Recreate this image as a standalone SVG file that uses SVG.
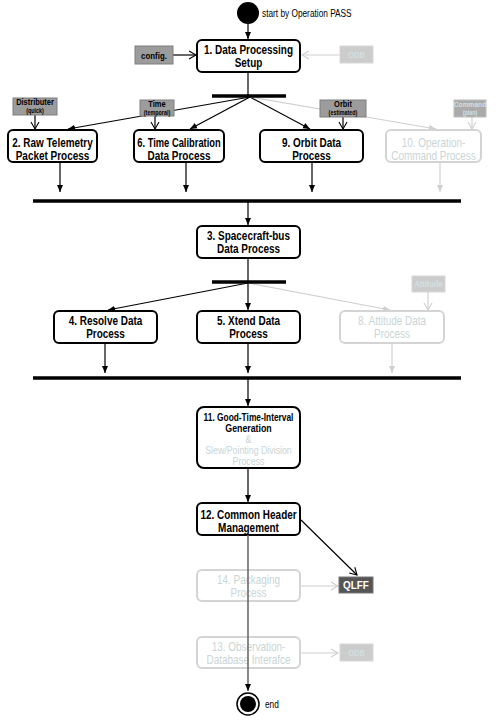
<svg xmlns="http://www.w3.org/2000/svg" width="498" height="720" viewBox="0 0 498 720">
<style>
text{font-family:"Liberation Sans",Arial,sans-serif;font-weight:bold;text-anchor:middle}
.box{fill:#fff;stroke:#000;stroke-width:2}
.fbox{fill:#fff;stroke:#d4d4d4;stroke-width:2}
.t{font-size:12px;fill:#000}
.ft{font-size:12px;fill:#c9d5d6;font-weight:normal}
.lab{fill:#9c9c9c;stroke:#7f7f7f;stroke-width:1}
.flab{fill:#cccccc;stroke:#d8d8d8;stroke-width:1}
.lt{font-size:9px;fill:#000}
.ls{font-size:6.5px;fill:#000}
.flt{font-size:9px;fill:#d2e0e0}
.fls{font-size:6.5px;fill:#d2e0e0}
.bar{stroke:#000;stroke-width:3.5}
.c{stroke:#000;stroke-width:1.2;fill:none}
.fc{stroke:#d0d0d0;stroke-width:1.2;fill:none}
.plain{font-weight:normal;text-anchor:start;font-size:10px;fill:#000}
</style>
<defs>
<marker id="fa" markerWidth="8" markerHeight="8" refX="7" refY="4" orient="auto" markerUnits="userSpaceOnUse"><path d="M0,1 L7,4 L0,7 Z" fill="#000"/></marker>
<marker id="fg" markerWidth="8" markerHeight="8" refX="7" refY="4" orient="auto" markerUnits="userSpaceOnUse"><path d="M0,1 L7,4 L0,7 Z" fill="#cfcfcf"/></marker>
<marker id="oa" markerWidth="10" markerHeight="10" refX="8" refY="5" orient="auto" markerUnits="userSpaceOnUse"><path d="M1,1 L8,5 L1,9" fill="none" stroke="#000" stroke-width="1.1"/></marker>
<marker id="og" markerWidth="10" markerHeight="10" refX="8" refY="5" orient="auto" markerUnits="userSpaceOnUse"><path d="M1,1 L8,5 L1,9" fill="none" stroke="#cfcfcf" stroke-width="1.1"/></marker>
</defs>

<g id="connectors">
<line class="c" x1="248" y1="24" x2="248" y2="39" marker-end="url(#fa)"/>
<line class="c" x1="173" y1="55" x2="196" y2="55" marker-end="url(#oa)"/>
<line class="fc" x1="340" y1="55" x2="302" y2="55" marker-end="url(#og)"/>
<line class="c" x1="248" y1="72" x2="248" y2="95"/>
<line class="c" x1="250" y1="97" x2="68" y2="129" marker-end="url(#fa)"/>
<line class="c" x1="250" y1="97" x2="190" y2="129" marker-end="url(#fa)"/>
<line class="c" x1="250" y1="97" x2="310" y2="129" marker-end="url(#fa)"/>
<line class="fc" x1="250" y1="97" x2="436" y2="129" marker-end="url(#fg)"/>
<line class="c" x1="35" y1="115" x2="35" y2="129" marker-end="url(#oa)"/>
<line class="c" x1="155" y1="116" x2="155" y2="129" marker-end="url(#oa)"/>
<line class="c" x1="343" y1="117" x2="343" y2="129" marker-end="url(#oa)"/>
<line class="fc" x1="472" y1="117" x2="472" y2="129" marker-end="url(#og)"/>
<line class="c" x1="60" y1="162" x2="60" y2="192" marker-end="url(#fa)"/>
<line class="c" x1="186" y1="162" x2="186" y2="192" marker-end="url(#fa)"/>
<line class="c" x1="312" y1="162" x2="312" y2="192" marker-end="url(#fa)"/>
<line class="fc" x1="440" y1="162" x2="440" y2="192" marker-end="url(#fg)"/>
<line class="c" x1="248" y1="201" x2="248" y2="225" marker-end="url(#fa)"/>
<line class="c" x1="248" y1="258" x2="248" y2="281"/>
<line class="c" x1="248" y1="283" x2="108" y2="310" marker-end="url(#fa)"/>
<line class="c" x1="248" y1="283" x2="248" y2="310" marker-end="url(#fa)"/>
<line class="fc" x1="248" y1="283" x2="390" y2="310" marker-end="url(#fg)"/>
<line class="fc" x1="428" y1="292" x2="428" y2="310" marker-end="url(#og)"/>
<line class="c" x1="105" y1="344" x2="105" y2="373" marker-end="url(#fa)"/>
<line class="c" x1="248" y1="344" x2="248" y2="373" marker-end="url(#fa)"/>
<line class="fc" x1="392" y1="344" x2="392" y2="373" marker-end="url(#fg)"/>
<line class="c" x1="248" y1="379" x2="248" y2="406" marker-end="url(#fa)"/>
<line class="c" x1="248" y1="468" x2="248" y2="502" marker-end="url(#fa)"/>
<line class="c" x1="301" y1="520" x2="357" y2="575" marker-end="url(#oa)"/>
<line class="fc" x1="300" y1="586" x2="338" y2="586" marker-end="url(#og)"/>
<line class="fc" x1="300" y1="653" x2="338" y2="653" marker-end="url(#og)"/>
</g>

<g id="start">
<circle cx="248" cy="13" r="11" fill="#000"/>
<text class="plain" transform="translate(262 0) scale(.83 1)" y="17">start by Operation PASS</text>
</g>

<g id="config"><rect class="lab" x="135" y="46" width="38" height="18"/><text class="lt" style="font-size:9.5px" transform="translate(154 0) scale(.83 1)" y="59">config.</text></g>
<g id="odb1"><rect class="flab" x="340" y="46" width="33" height="17"/><text class="flt" transform="translate(356.5 0) scale(.83 1)" y="58">ODB</text></g>

<g id="n1"><rect class="box" x="197" y="40" width="103" height="32" rx="5"/><text class="t" transform="translate(248.5 0) scale(.83 1)" y="54">1. Data Processing</text><text class="t" transform="translate(248.5 0) scale(.83 1)" y="67">Setup</text></g>

<g id="fork1"><line class="bar" x1="212" y1="96" x2="286" y2="96"/></g>

<g id="distributer"><rect class="lab" x="13" y="98" width="44" height="17"/><text class="lt" transform="translate(35 0) scale(.83 1)" y="105.5">Distributer</text><text class="ls" transform="translate(35 0) scale(.83 1)" y="113.5">(quick)</text></g>
<g id="time"><rect class="lab" x="140" y="100" width="34" height="16"/><text class="lt" transform="translate(157 0) scale(.83 1)" y="107">Time</text><text class="ls" transform="translate(157 0) scale(.83 1)" y="115">(temporal)</text></g>
<g id="orbit"><rect class="lab" x="320" y="100" width="46" height="17"/><text class="lt" transform="translate(343 0) scale(.83 1)" y="107.5">Orbit</text><text class="ls" transform="translate(343 0) scale(.83 1)" y="115.5">(estimated)</text></g>
<g id="command"><rect fill="#aaaaaa" stroke="#bcbcbc" x="454" y="100" width="32" height="17"/><text class="flt" style="font-size:8px" transform="translate(470 0) scale(.83 1)" y="107.5">Command</text><text class="fls" transform="translate(470 0) scale(.83 1)" y="115.5">(plan)</text></g>

<g id="n2"><rect class="box" x="8" y="130" width="89" height="32" rx="5"/><text class="t" transform="translate(52.5 0) scale(.83 1)" y="147">2. Raw Telemetry</text><text class="t" transform="translate(52.5 0) scale(.83 1)" y="160">Packet Process</text></g>
<g id="n6"><rect class="box" x="134" y="130" width="90" height="32" rx="5"/><text class="t" transform="translate(179 0) scale(.78 1)" y="147">6. Time Calibration</text><text class="t" transform="translate(179 0) scale(.83 1)" y="160">Data Process</text></g>
<g id="n9"><rect class="box" x="260" y="130" width="103" height="32" rx="5"/><text class="t" transform="translate(311.5 0) scale(.83 1)" y="147">9. Orbit Data</text><text class="t" transform="translate(311.5 0) scale(.83 1)" y="160">Process</text></g>
<g id="n10"><rect class="fbox" x="386" y="130" width="95" height="32" rx="5"/><text class="ft" transform="translate(433.5 0) scale(.83 1)" y="147">10. Operation-</text><text class="ft" transform="translate(433.5 0) scale(.83 1)" y="160">Command Process</text></g>

<g id="join1"><line class="bar" x1="33" y1="201" x2="461" y2="201"/></g>

<g id="n3"><rect class="box" x="197" y="226" width="103" height="32" rx="5"/><text class="t" transform="translate(248.5 0) scale(.83 1)" y="240">3. Spacecraft-bus</text><text class="t" transform="translate(248.5 0) scale(.83 1)" y="253">Data Process</text></g>

<g id="fork2"><line class="bar" x1="212" y1="282" x2="286" y2="282"/></g>

<g id="attitude"><rect class="flab" x="412" y="276" width="33" height="16"/><text class="flt" transform="translate(428.5 0) scale(.83 1)" y="287">Attitude</text></g>

<g id="n4"><rect class="box" x="54" y="311" width="103" height="32" rx="5"/><text class="t" transform="translate(105.5 0) scale(.83 1)" y="325">4. Resolve Data</text><text class="t" transform="translate(105.5 0) scale(.83 1)" y="338">Process</text></g>
<g id="n5"><rect class="box" x="197" y="311" width="103" height="32" rx="5"/><text class="t" transform="translate(248.5 0) scale(.83 1)" y="325">5. Xtend Data</text><text class="t" transform="translate(248.5 0) scale(.83 1)" y="338">Process</text></g>
<g id="n8"><rect class="fbox" x="340" y="311" width="104" height="32" rx="5"/><text class="ft" transform="translate(392 0) scale(.83 1)" y="325">8. Attitude Data</text><text class="ft" transform="translate(392 0) scale(.83 1)" y="338">Process</text></g>

<g id="join2"><line class="bar" x1="33" y1="378" x2="461" y2="378"/></g>

<g id="n11"><rect class="box" x="197" y="407" width="103" height="61" rx="7"/><text class="t" style="font-size:11px" transform="translate(248.5 0) scale(.76 1)" y="421">11. Good-Time-Interval</text><text class="t" style="font-size:11px" transform="translate(248.5 0) scale(.8 1)" y="432">Generation</text><text class="ft" style="font-size:11px" transform="translate(248.5 0) scale(.8 1)" y="443">&amp;</text><text class="ft" style="font-size:11px" transform="translate(248.5 0) scale(.8 1)" y="454">Slew/Pointing Division</text><text class="ft" style="font-size:11px" transform="translate(248.5 0) scale(.8 1)" y="465">Process</text></g>

<g id="n12"><rect class="box" x="197" y="503" width="103" height="32" rx="5"/><text class="t" transform="translate(248.5 0) scale(.83 1)" y="519">12. Common Header</text><text class="t" transform="translate(248.5 0) scale(.83 1)" y="532">Management</text></g>

<g id="n14"><rect class="fbox" x="197" y="570" width="103" height="31" rx="5"/><text class="ft" transform="translate(248.5 0) scale(.83 1)" y="584">14. Packaging</text><text class="ft" transform="translate(248.5 0) scale(.83 1)" y="597">Process</text></g>
<g id="qlff"><rect fill="#555555" stroke="#777" x="339" y="577" width="34" height="16"/><text transform="translate(356 0) scale(.9 1)" y="589" style="font-size:11px;fill:#fff">QLFF</text></g>

<g id="n13"><rect class="fbox" x="197" y="637" width="103" height="31" rx="5"/><text class="ft" transform="translate(248.5 0) scale(.83 1)" y="651">13. Observation-</text><text class="ft" transform="translate(248.5 0) scale(.83 1)" y="664">Database Interafce</text></g>
<g id="odb2"><rect class="flab" x="340" y="644" width="33" height="17"/><text class="flt" transform="translate(356.5 0) scale(.83 1)" y="656">ODB</text></g>

<g id="connectors-end"><line stroke="#6a6a6a" stroke-width="1.6" x1="248" y1="535" x2="248" y2="691" marker-end="url(#fa)"/></g>

<g id="end">
<circle cx="248" cy="704" r="11" fill="#fff" stroke="#000" stroke-width="1.5"/>
<circle cx="248" cy="704" r="8" fill="#000"/>
<text class="plain" transform="translate(265 0) scale(.83 1)" y="708">end</text>
</g>
</svg>
